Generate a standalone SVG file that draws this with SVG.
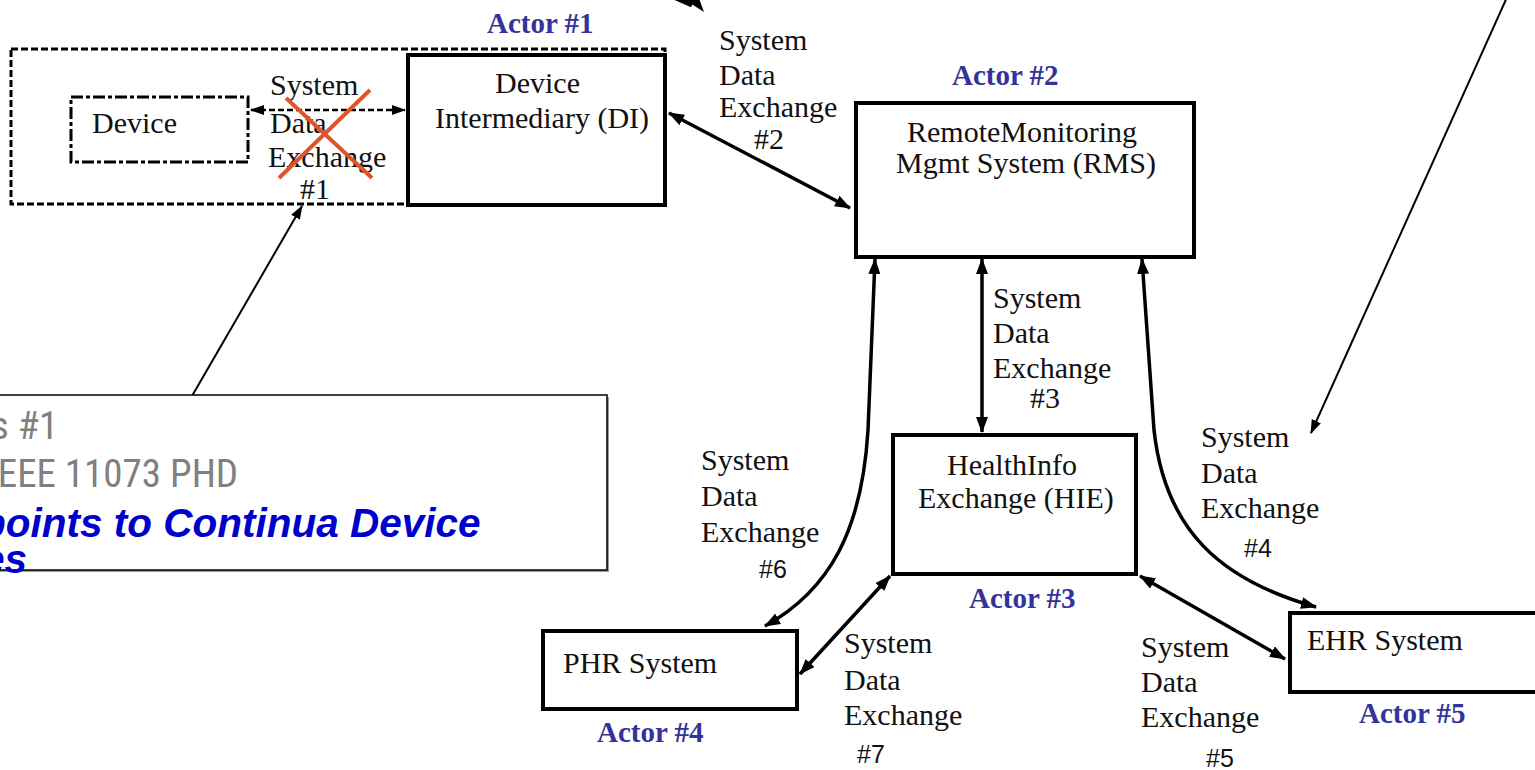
<svg xmlns="http://www.w3.org/2000/svg" width="1535" height="770" viewBox="0 0 1535 770">
<style>
.bg{fill:#fff}
.box{fill:#fff;stroke:#000;stroke-width:4}
.t{font-family:"Liberation Serif",serif;font-size:30px;fill:#111}
.n{font-family:"Liberation Sans",sans-serif;font-size:25px;fill:#111}
.actor{font-family:"Liberation Serif",serif;font-size:29px;font-weight:bold;fill:#333399}
.con{fill:none;stroke:#000;stroke-width:3.5}
.thin{fill:none;stroke:#000;stroke-width:2}
.grey{font-family:"Liberation Sans Narrow","Roboto Condensed","Liberation Sans",sans-serif;font-size:39px;fill:#808080}
.blue{font-family:"Liberation Sans",Arial,sans-serif;font-size:40.5px;font-weight:bold;font-style:italic;fill:#0000cc}
</style>
<defs>
<marker id="ah" viewBox="0 0 16 12" refX="15" refY="6" markerWidth="16" markerHeight="12" markerUnits="userSpaceOnUse" orient="auto-start-reverse"><path d="M0,0 L16,6 L0,12 z" fill="#000"/></marker>
<marker id="ahs" viewBox="0 0 14 10" refX="13" refY="5" markerWidth="14" markerHeight="11" markerUnits="userSpaceOnUse" orient="auto-start-reverse"><path d="M0,0 L14,5 L0,10 z" fill="#000"/></marker>
</defs>
<rect class="bg" x="0" y="0" width="1535" height="770"/>

<g id="actor1-group">
<rect x="11" y="49" width="654" height="155" fill="none" stroke="#000" stroke-width="3" stroke-dasharray="7 3"/>
<text class="actor" x="487" y="33">Actor #1</text>
</g>
<g id="device">
<rect x="71" y="97" width="177" height="65" fill="#fff" stroke="#000" stroke-width="3" stroke-dasharray="12 3 4 3"/>
<text class="t" x="92" y="133">Device</text>
</g>
<g id="di">
<rect class="box" x="408" y="55" width="257" height="150"/>
<text class="t" x="495" y="93">Device</text>
<text class="t" x="435" y="128">Intermediary (DI)</text>
</g>
<g id="rms">
<rect class="box" x="856" y="103" width="338" height="154"/>
<text class="actor" x="952" y="85">Actor #2</text>
<text class="t" x="907" y="142">RemoteMonitoring</text>
<text class="t" x="896" y="173">Mgmt System (RMS)</text>
</g>
<g id="hie">
<rect class="box" x="893" y="435" width="243" height="139"/>
<text class="t" x="947" y="475">HealthInfo</text>
<text class="t" x="918" y="508">Exchange (HIE)</text>
<text class="actor" x="969" y="608">Actor #3</text>
</g>
<g id="phr">
<rect class="box" x="543" y="631" width="254" height="78"/>
<text class="t" x="563" y="673">PHR System</text>
<text class="actor" x="597" y="742">Actor #4</text>
</g>
<g id="ehr">
<rect class="box" x="1290" y="613" width="260" height="79"/>
<text class="t" x="1307" y="650">EHR System</text>
<text class="actor" x="1359" y="723">Actor #5</text>
</g>

<g id="connectors">
<line x1="251" y1="110" x2="405" y2="110" stroke="#000" stroke-width="2.5" stroke-dasharray="6 3" marker-start="url(#ahs)" marker-end="url(#ahs)"/>
<line class="con" x1="669" y1="113" x2="850" y2="208" marker-start="url(#ah)" marker-end="url(#ah)"/>
<line class="con" x1="982" y1="259" x2="982" y2="432" marker-start="url(#ah)" marker-end="url(#ah)"/>
<path class="con" d="M875,259 L868,430 C862,530 830,590 765,626" marker-start="url(#ah)" marker-end="url(#ah)"/>
<path class="con" d="M1142,259 L1154,430 C1165,530 1220,580 1316,607" marker-start="url(#ah)" marker-end="url(#ah)"/>
<line class="con" x1="890" y1="576" x2="800" y2="674" marker-start="url(#ah)" marker-end="url(#ah)"/>
<line class="con" x1="1140" y1="576" x2="1285" y2="659" marker-start="url(#ah)" marker-end="url(#ah)"/>
<line class="thin" x1="192" y1="396" x2="302" y2="206" marker-end="url(#ahs)"/>
<line class="thin" x1="1508" y1="-5" x2="1311" y2="433" marker-end="url(#ahs)"/>
<line x1="640" y1="-18" x2="692" y2="5" stroke="#000" stroke-width="5"/>
<polygon points="682,-2 704,12 696,-10" fill="#000"/>
</g>

<g id="labels">
<text class="t" x="270" y="95">System</text>
<text class="t" x="270" y="133">Data</text>
<text class="t" x="268" y="167">Exchange</text>
<text class="t" x="300" y="199">#1</text>
<text class="t" x="719" y="50">System</text>
<text class="t" x="719" y="85">Data</text>
<text class="t" x="719" y="117">Exchange</text>
<text class="t" x="754" y="149">#2</text>
<text class="t" x="993" y="308">System</text>
<text class="t" x="993" y="343">Data</text>
<text class="t" x="993" y="378">Exchange</text>
<text class="t" x="1030" y="408">#3</text>
<text class="t" x="701" y="470">System</text>
<text class="t" x="701" y="506">Data</text>
<text class="t" x="701" y="542">Exchange</text>
<text class="n" x="759" y="578">#6</text>
<text class="t" x="1201" y="447">System</text>
<text class="t" x="1201" y="483">Data</text>
<text class="t" x="1201" y="518">Exchange</text>
<text class="n" x="1244" y="557">#4</text>
<text class="t" x="844" y="653">System</text>
<text class="t" x="844" y="690">Data</text>
<text class="t" x="844" y="725">Exchange</text>
<text class="n" x="857" y="763">#7</text>
<text class="t" x="1141" y="657">System</text>
<text class="t" x="1141" y="692">Data</text>
<text class="t" x="1141" y="727">Exchange</text>
<text class="n" x="1206" y="767">#5</text>
</g>

<g id="cross">
<line x1="279" y1="178" x2="370" y2="90" stroke="#e0542a" stroke-width="4"/>
<line x1="286" y1="98" x2="372" y2="178" stroke="#e0542a" stroke-width="4"/>
</g>

<g id="callout">
<rect x="-3" y="397" width="612" height="175" fill="#999"/>
<rect x="-5" y="395" width="612" height="175" fill="#fff" stroke="#000" stroke-width="1.5"/>
<text class="grey" x="-9" y="439">s #1</text>
<text class="grey" x="-12" y="487">IEEE 11073 PHD</text>
<text class="blue" x="-19" y="537">points to Continua Device</text>
<text class="blue" x="-18" y="573">es</text>
</g>
</svg>
